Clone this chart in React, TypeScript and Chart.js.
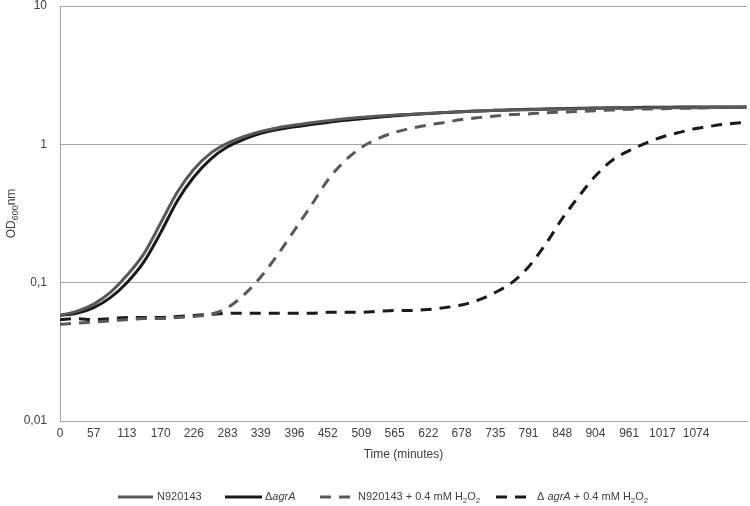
import React, { useEffect, useRef } from "react";
import { Chart, registerables } from "chart.js";

Chart.register(...registerables);

// ---- data (minutes, OD600nm) ----
const timeMinutes = [0, 28, 57, 85, 113, 141, 170, 198, 226, 254, 283, 311, 339, 368, 396, 424, 452, 481, 509, 537, 565, 594, 622, 650, 678, 707, 735, 763, 791, 820, 848, 876, 904, 933, 961, 989, 1017, 1046, 1074, 1102, 1131, 1159];

const n920143 = [0.058, 0.062, 0.070, 0.085, 0.113, 0.16, 0.27, 0.45, 0.66, 0.86, 1.02, 1.14, 1.24, 1.32, 1.38, 1.43, 1.48, 1.53, 1.57, 1.60, 1.63, 1.65, 1.68, 1.70, 1.72, 1.74, 1.76, 1.77, 1.78, 1.79, 1.80, 1.81, 1.82, 1.82, 1.83, 1.83, 1.84, 1.84, 1.84, 1.85, 1.85, 1.85];

const agrA = [0.058, 0.060, 0.066, 0.078, 0.100, 0.140, 0.23, 0.39, 0.58, 0.78, 0.96, 1.09, 1.20, 1.28, 1.34, 1.39, 1.44, 1.49, 1.53, 1.57, 1.61, 1.64, 1.67, 1.70, 1.72, 1.74, 1.76, 1.78, 1.79, 1.80, 1.81, 1.82, 1.83, 1.84, 1.84, 1.85, 1.85, 1.86, 1.86, 1.86, 1.86, 1.86];

const n920143H2O2 = [0.050, 0.051, 0.052, 0.053, 0.054, 0.055, 0.055, 0.056, 0.057, 0.059, 0.066, 0.082, 0.11, 0.16, 0.24, 0.36, 0.55, 0.76, 0.95, 1.10, 1.22, 1.31, 1.38, 1.44, 1.51, 1.56, 1.60, 1.64, 1.66, 1.69, 1.71, 1.73, 1.75, 1.77, 1.79, 1.80, 1.81, 1.82, 1.83, 1.84, 1.85, 1.86];

const agrAH2O2 = [0.054, 0.055, 0.054, 0.055, 0.056, 0.056, 0.056, 0.057, 0.058, 0.059, 0.060, 0.060, 0.060, 0.060, 0.060, 0.060, 0.061, 0.061, 0.061, 0.062, 0.063, 0.063, 0.064, 0.066, 0.069, 0.075, 0.085, 0.10, 0.13, 0.19, 0.29, 0.42, 0.59, 0.77, 0.90, 1.02, 1.13, 1.22, 1.30, 1.36, 1.41, 1.44];

const xTickLabels = ["0", "57", "113", "170", "226", "283", "339", "396", "452", "509", "565", "622", "678", "735", "791", "848", "904", "961", "1017", "1074"];
const yTickValues = [0.01, 0.1, 1, 10];
const yTickLabels = ["0,01", "0,1", "1", "10"];

const xTitle = "Time (minutes)";

type Seg = { text: string; italic?: boolean; sub?: boolean };
const yTitleSegs: Seg[] = [{ text: "OD" }, { text: "600", sub: true }, { text: "nm" }];

const legendItems: { segs: Seg[]; color: string; dash: number[]; x0: number; x1: number; tx: number }[] = [
  { segs: [{ text: "N920143" }], color: "#595959", dash: [], x0: 118, x1: 153, tx: 157 },
  { segs: [{ text: "Δ" }, { text: "agrA", italic: true }], color: "#1a1a1a", dash: [], x0: 225, x1: 262, tx: 265 },
  {
    segs: [{ text: "N920143 + 0.4 mM H" }, { text: "2", sub: true }, { text: "O" }, { text: "2", sub: true }],
    color: "#595959", dash: [11, 8], x0: 320, x1: 352, tx: 358,
  },
  {
    segs: [{ text: "Δ " }, { text: "agrA", italic: true }, { text: " + 0.4 mM H" }, { text: "2", sub: true }, { text: "O" }, { text: "2", sub: true }],
    color: "#1a1a1a", dash: [11, 8], x0: 496, x1: 532, tx: 537,
  },
];

const FONT = "'Liberation Sans', Arial, sans-serif";
const TEXT_COLOR = "#404040";
const GRID = "#a6a6a6";

function segWidth(ctx: CanvasRenderingContext2D, segs: Seg[], size: number) {
  let w = 0;
  for (const s of segs) {
    ctx.font = `${s.italic ? "italic " : ""}${s.sub ? Math.round(size * 0.72) : size}px ${FONT}`;
    w += ctx.measureText(s.text).width;
  }
  return w;
}

function drawSegs(ctx: CanvasRenderingContext2D, x: number, y: number, segs: Seg[], size: number) {
  let cx = x;
  for (const s of segs) {
    ctx.font = `${s.italic ? "italic " : ""}${s.sub ? Math.round(size * 0.72) : size}px ${FONT}`;
    ctx.fillText(s.text, cx, y + (s.sub ? size * 0.3 : 0));
    cx += ctx.measureText(s.text).width;
  }
}

const textPlugin = {
  id: "customText",
  afterDraw(chart: any) {
    const ctx: CanvasRenderingContext2D = chart.ctx;
    const area = chart.chartArea;
    ctx.save();
    ctx.fillStyle = TEXT_COLOR;
    ctx.textBaseline = "middle";
    ctx.textAlign = "left";

    // x title
    ctx.font = `12px ${FONT}`;
    const xw = ctx.measureText(xTitle).width;
    ctx.fillText(xTitle, (area.left + area.right) / 2 - xw / 2, 455);

    // y title (rotated)
    ctx.save();
    ctx.translate(12, (area.top + area.bottom) / 2);
    ctx.rotate(-Math.PI / 2);
    const yw = segWidth(ctx, yTitleSegs, 12);
    drawSegs(ctx, -yw / 2, 0, yTitleSegs, 12);
    ctx.restore();

    // legend
    const ly = 497;
    for (const it of legendItems) {
      ctx.save();
      ctx.strokeStyle = it.color;
      ctx.lineWidth = 3;
      ctx.setLineDash(it.dash);
      ctx.beginPath();
      ctx.moveTo(it.x0, ly);
      ctx.lineTo(it.x1, ly);
      ctx.stroke();
      ctx.restore();
      ctx.fillStyle = TEXT_COLOR;
      drawSegs(ctx, it.tx, ly, it.segs, 11);
    }
    ctx.restore();
  },
};

function mk(label: string, values: number[], color: string, dash: number[]) {
  return {
    label,
    data: timeMinutes.map((t, i) => ({ x: t, y: values[i] })),
    borderColor: color,
    backgroundColor: color,
    borderWidth: 3,
    borderDash: dash,
    pointRadius: 0,
    cubicInterpolationMode: "monotone" as const,
    fill: false,
  };
}

export default function App() {
  const ref = useRef<HTMLCanvasElement | null>(null);
  useEffect(() => {
    if (!ref.current) return;
    const chart = new Chart(ref.current, {
      type: "line",
      data: {
        datasets: [
          mk("N920143 + 0.4 mM H2O2", n920143H2O2, "#595959", [11, 8]),
          mk("ΔagrA + 0.4 mM H2O2", agrAH2O2, "#1a1a1a", [11, 8]),
          mk("N920143", n920143, "#595959", []),
          mk("ΔagrA", agrA, "#1a1a1a", []),
        ],
      },
      options: {
        responsive: false,
        animation: false,
        layout: { padding: { top: 6, right: 3, left: 0, bottom: 0 } },
        plugins: { legend: { display: false }, tooltip: { enabled: false } },
        scales: {
          x: {
            type: "linear",
            min: 0,
            max: 1160,
            afterFit: (s: any) => { s.height = 85; s.paddingLeft = 0; s.paddingRight = 0; },
            afterBuildTicks: (s: any) => { s.ticks = xTickLabels.map((l) => ({ value: Number(l) })); },
            ticks: {
              autoSkip: false,
              maxRotation: 0,
              padding: 5,
              color: TEXT_COLOR,
              font: { family: FONT, size: 12 },
              callback: (v: any) => {
                const i = xTickLabels.findIndex((l) => Number(l) === Number(v));
                return i >= 0 ? xTickLabels[i] : "";
              },
            },
            grid: { display: false, drawTicks: false },
            border: { display: true, color: GRID, width: 1 },
          },
          y: {
            type: "logarithmic",
            min: 0.01,
            max: 10,
            afterFit: (s: any) => { s.width = 60; s.paddingTop = 0; s.paddingBottom = 0; },
            afterBuildTicks: (s: any) => { s.ticks = yTickValues.map((v) => ({ value: v })); },
            ticks: {
              padding: 13,
              color: TEXT_COLOR,
              font: { family: FONT, size: 12 },
              callback: (v: any) => {
                const i = yTickValues.findIndex((t) => Math.abs(t - Number(v)) < 1e-9);
                return i >= 0 ? yTickLabels[i] : "";
              },
            },
            grid: { color: GRID, lineWidth: 1, drawTicks: false },
            border: { display: true, color: GRID, width: 1 },
          },
        },
      },
      plugins: [textPlugin],
    });
    return () => chart.destroy();
  }, []);
  return (
    <div style={{ position: "fixed", left: 0, top: 0, width: 750, height: 506, background: "#fff" }}>
      <canvas ref={ref} width={750} height={506} style={{ width: 750, height: 506, display: "block" }} />
    </div>
  );
}
